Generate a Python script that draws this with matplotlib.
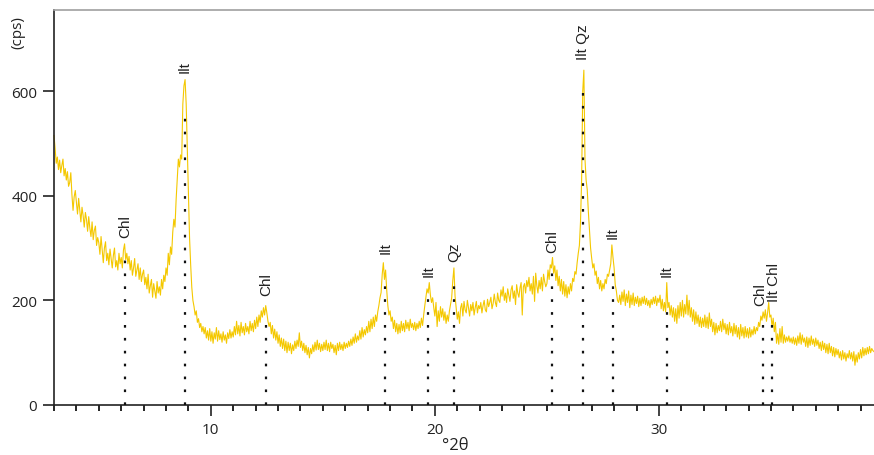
import numpy as np
import matplotlib
matplotlib.use("Agg")
import matplotlib.pyplot as plt
from matplotlib.ticker import MultipleLocator

# XRD scan, 3.00 to 39.60 deg 2theta, 0.05 deg step
start_2theta = 3.0
step_2theta = 0.05
cps = [
    515, 490, 462, 474, 450, 468, 444, 458, 470, 438, 452, 430, 446, 418, 425, 444, 402, 372, 398, 410,  # 3
    388, 365, 395, 372, 350, 378, 362, 340, 368, 355, 332, 360, 338, 322, 350, 316, 334, 342, 305, 320,  # 4
    310, 288, 322, 296, 272, 300, 312, 276, 290, 268, 298, 280, 262, 286, 300, 264, 276, 258, 290, 270,  # 5
    282, 262, 296, 308, 278, 290, 270, 284, 258, 276, 248, 262, 280, 246, 258, 270, 240, 262, 236, 250,  # 6
    258, 230, 244, 222, 250, 214, 228, 240, 206, 232, 218, 204, 236, 214, 226, 210, 240, 222, 248, 236,  # 7
    262, 248, 290, 268, 302, 288, 330, 355, 340, 392, 430, 470, 455, 478, 470, 575, 610, 622, 575, 490,  # 8
    400, 320, 268, 225, 200, 188, 172, 180, 158, 165, 148, 156, 140, 150, 136, 148, 128, 142, 124, 146,  # 9
    122, 140, 118, 138, 126, 148, 122, 142, 125, 136, 120, 140, 124, 134, 118, 138, 127, 144, 128, 140,  # 10
    130, 150, 134, 160, 136, 152, 132, 158, 138, 150, 134, 156, 140, 150, 136, 160, 142, 156, 140, 162,  # 11
    146, 168, 150, 172, 158, 180, 168, 186, 172, 190, 176, 160, 150, 158, 136, 152, 128, 145, 124, 140,  # 12
    118, 134, 112, 128, 108, 126, 104, 122, 100, 120, 104, 118, 98, 115, 104, 122, 108, 124, 112, 138,   # 13
    110, 122, 104, 118, 100, 114, 96, 110, 90, 108, 98, 115, 102, 120, 105, 124, 106, 118, 102, 116,     # 14
    104, 120, 106, 124, 104, 118, 102, 120, 108, 116, 100, 114, 96, 118, 104, 120, 106, 116, 104, 120,   # 15
    108, 118, 110, 122, 112, 126, 114, 130, 118, 136, 120, 132, 124, 142, 126, 148, 130, 144, 134, 150,  # 16
    138, 160, 140, 164, 146, 168, 150, 172, 160, 178, 190, 205, 215, 250, 272, 240, 258, 220, 190, 172,  # 17
    180, 160, 168, 146, 162, 140, 156, 136, 154, 138, 160, 142, 156, 140, 162, 146, 158, 142, 164, 148,  # 18
    156, 144, 158, 142, 156, 146, 160, 148, 166, 152, 172, 190, 206, 222, 214, 234, 210, 196, 205, 186,  # 19
    170, 196, 150, 180, 160, 188, 168, 184, 162, 178, 156, 172, 160, 180, 192, 205, 238, 262, 208, 186,  # 20
    164, 178, 156, 186, 194, 170, 198, 182, 176, 200, 186, 170, 192, 180, 196, 172, 186, 198, 176, 190,  # 21
    184, 196, 176, 190, 200, 182, 178, 202, 188, 196, 206, 184, 194, 212, 196, 188, 214, 200, 196, 220,  # 22
    208, 226, 200, 214, 196, 222, 210, 198, 220, 228, 204, 218, 192, 230, 214, 206, 224, 234, 172, 226,  # 23
    232, 214, 238, 226, 244, 218, 232, 212, 246, 198, 252, 228, 214, 238, 222, 244, 218, 250, 236, 226,  # 24
    232, 258, 240, 268, 262, 282, 252, 266, 238, 258, 228, 246, 218, 240, 212, 236, 208, 230, 205, 226,  # 25
    212, 232, 218, 242, 236, 255, 250, 272, 290, 305, 350, 430, 600, 640, 470, 430, 412, 370, 335, 300,  # 26
    280, 262, 270, 248, 256, 232, 244, 222, 238, 218, 232, 222, 240, 232, 250, 246, 258, 270, 306, 282,  # 27
    262, 230, 218, 200, 196, 210, 192, 216, 198, 220, 190, 212, 196, 218, 186, 210, 192, 214, 190, 206,  # 28
    194, 208, 188, 204, 190, 206, 194, 208, 192, 204, 190, 200, 186, 202, 192, 206, 194, 208, 190, 204,  # 29
    196, 210, 184, 202, 180, 196, 178, 234, 186, 196, 172, 190, 168, 186, 160, 184, 156, 190, 166, 196,  # 30
    170, 200, 168, 192, 174, 210, 172, 200, 168, 186, 160, 182, 154, 178, 156, 172, 150, 168, 148, 166,  # 31
    150, 172, 148, 168, 146, 176, 150, 164, 140, 158, 134, 156, 138, 152, 142, 160, 140, 164, 144, 156,  # 32
    136, 154, 134, 158, 138, 150, 132, 156, 136, 152, 130, 148, 126, 154, 132, 148, 128, 150, 130, 146,  # 33
    128, 148, 130, 144, 134, 150, 136, 148, 142, 158, 150, 170, 162, 178, 166, 182, 160, 176, 196, 168,  # 34
    172, 150, 166, 140, 158, 118, 136, 116, 146, 120, 150, 118, 134, 120, 130, 122, 132, 120, 128, 118,  # 35
    130, 116, 128, 114, 132, 118, 138, 116, 134, 120, 128, 112, 130, 110, 128, 114, 132, 116, 126, 112,  # 36
    128, 114, 124, 108, 120, 104, 122, 106, 118, 100, 116, 98, 118, 100, 112, 94, 110, 92, 108, 96,      # 37
    106, 90, 102, 86, 104, 88, 100, 84, 98, 90, 104, 88, 100, 84, 102, 76, 96, 82, 100, 88,              # 38
    106, 90, 110, 94, 108, 96, 110, 98, 112, 100, 108, 104, 102,                                         # 39
]

# identified reflections: position, name, top of marker line, label base (cps)
peak_pos = [6.17, 8.84, 12.46, 17.78, 19.71, 20.86, 25.25, 26.63, 27.93, 30.36, 34.63, 35.04]
peak_names = ["Chl", "Ilt", "Chl", "Ilt", "Ilt", "Qz", "Chl", "Ilt Qz", "Ilt", "Ilt", "Chl", "Ilt Chl"]
peak_top = [280, 560, 159, 235, 209, 231, 260, 608, 266, 187, 161, 161]
label_base = [321, 637, 210, 290, 246, 275, 292, 661, 319, 246, 191, 199]

two_theta = start_2theta + step_2theta * np.arange(len(cps))

plt.rcParams['font.family'] = ['Open Sans', 'DejaVu Sans']

fig = plt.figure(figsize=(8.74, 4.56), dpi=100)
ax = fig.add_axes([54 / 874, 1 - 406 / 456, 1 - 54 / 874, (406 - 11) / 456])

ax.plot(two_theta, cps, color='#F4C800', lw=0.8, zorder=2, clip_on=False)

for i, (pos, name, top, lab) in enumerate(zip(peak_pos, peak_names, peak_top, label_base)):
    ax.plot([pos, pos], [0, top], color='#111111', lw=1.6,
            linestyle=(0, (1.2, 4.6)), zorder=3)
    # the two close labels near 35 deg sit side by side
    tx, ha = pos, 'center'
    if i == len(peak_pos) - 2:
        tx, ha = (peak_pos[-2] + peak_pos[-1]) / 2, 'right'
    elif i == len(peak_pos) - 1:
        tx, ha = (peak_pos[-2] + peak_pos[-1]) / 2, 'left'
    ax.text(tx, lab, name, rotation=90, ha=ha, va='bottom',
            fontsize=11, family=['Liberation Sans', 'DejaVu Sans'], color='#222222')

ax.set_xlim(3, 39.6)
ax.set_ylim(0, 755)
ax.xaxis.set_major_locator(MultipleLocator(10))
ax.xaxis.set_minor_locator(MultipleLocator(1))
ax.set_yticks([0, 200, 400, 600])

ax.tick_params(axis='x', which='major', length=8, width=1.2, pad=4, labelsize=11, colors='#222222')
ax.tick_params(axis='x', which='minor', length=4, width=1.2)
ax.tick_params(axis='y', which='major', length=8, width=1.2, pad=4, labelsize=11, colors='#222222')

ax.spines['right'].set_visible(False)
ax.spines['top'].set_color('#a0a0a0')
ax.spines['top'].set_linewidth(1.2)
for s in ('left', 'bottom'):
    ax.spines[s].set_color('#222222')
    ax.spines[s].set_linewidth(1.2)

fig.text(0.021, 0.929, '(cps)', rotation=90, ha='center', va='center', fontsize=11, color='#222222')
fig.text(455 / 874, 1 - 446 / 456, '°2θ', ha='center', va='center', fontsize=12, color='#222222')

fig.savefig('out.png', dpi=100)
